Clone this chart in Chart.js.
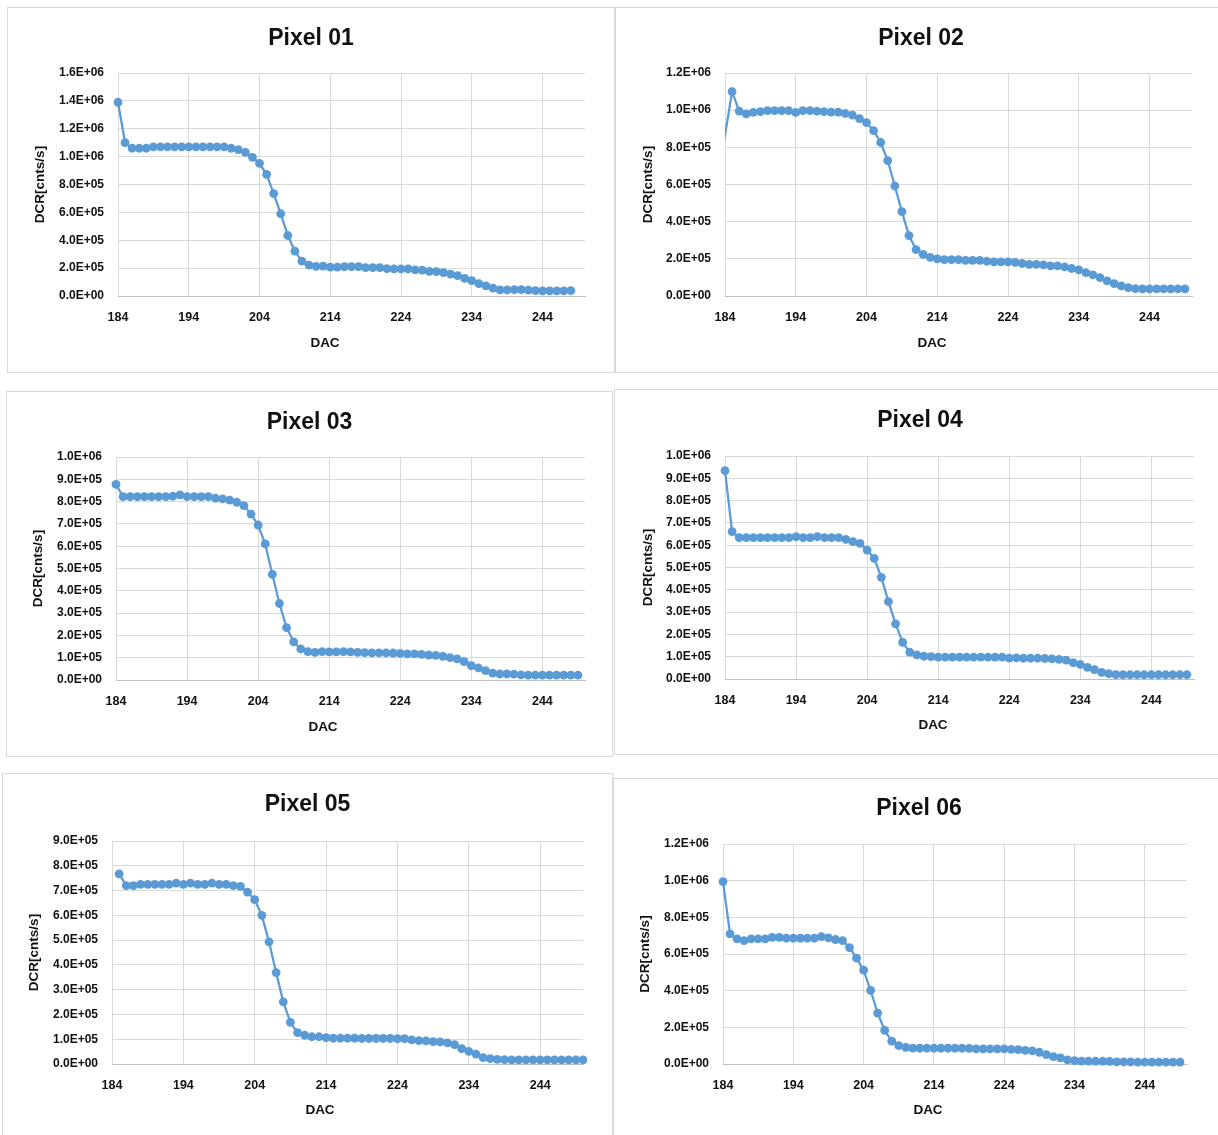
<!DOCTYPE html>
<html>
<head>
<meta charset="utf-8">
<script src="https://cdn.jsdelivr.net/npm/chart.js@4.4.1/dist/chart.umd.min.js"></script>
<style>
body{margin:0;background:#fff;}
#wrap{position:relative;width:1218px;height:1135px;overflow:hidden;background:#fff;}
.panel{position:absolute;border:1px solid #d9d9d9;box-sizing:border-box;}
canvas{position:absolute;}
</style>
</head>
<body>
<div id="wrap"></div>
<script>
// DAC steps 183..250 (183 only feeds the clipped start of Pixel 02)
const dac = [183,184,185,186,187,188,189,190,191,192,
193,194,195,196,197,198,199,200,201,202,
203,204,205,206,207,208,209,210,211,212,
213,214,215,216,217,218,219,220,221,222,
223,224,225,226,227,228,229,230,231,232,
233,234,235,236,237,238,239,240,241,242,
243,244,245,246,247,248,249,250]

const titles = ["Pixel 01","Pixel 02","Pixel 03","Pixel 04","Pixel 05","Pixel 06"]
const xTicks = [184,194,204,214,224,234,244]
const yMax = [1.6e6,1.2e6,1.0e6,1.0e6,9e5,1.2e6]
const yStep = [2e5,2e5,1e5,1e5,1e5,2e5]

const pixel01 = [null,1390000,1100000,1060000,1060000,1060000,1070000,1070000,1070000,1070000,
1070000,1070000,1070000,1070000,1070000,1070000,1070000,1060000,1050000,1030000,
995000,952000,872000,735000,590000,434000,322000,250000,222000,213000,
215000,207000,207000,210000,210000,210000,203000,203000,203000,197000,
195000,195000,195000,187000,185000,176000,175000,167000,157000,146000,
127000,110000,88000,72000,56000,44000,43000,46000,46000,42000,
38000,37000,37000,37000,37000,38000,null,null]

const pixel02 = [630000,null,1100000,995000,980000,988000,992000,997000,997000,997000,
997000,988000,997000,997000,995000,992000,990000,990000,982000,973000,
955000,933000,890000,826000,728000,592000,454000,325000,250000,224000,
208000,200000,196000,196000,196000,192000,192000,192000,187000,184000,
184000,184000,181000,175000,170000,170000,168000,162000,162000,157000,
148000,141000,126000,114000,99000,81000,67000,54000,45000,40000,
38000,38000,38000,38000,38000,38000,38000,null]

const pixel03 = [null,877000,822000,822000,822000,822000,822000,822000,822000,824000,
830000,822000,822000,822000,822000,815000,812000,807000,797000,782000,
744000,695000,610000,474000,343000,235000,171000,139000,127000,124000,
127000,126000,126000,127000,126000,124000,123000,122000,122000,122000,
121000,119000,117000,117000,115000,112000,110000,106000,100000,95000,
82000,64000,54000,42000,31000,27000,27000,26000,23000,22000,
22000,22000,22000,22000,22000,22000,22000,null]

const pixel04 = [null,934000,661000,634000,634000,634000,634000,634000,634000,634000,
634000,638000,634000,634000,638000,634000,634000,634000,626000,616000,
608000,578000,541000,456000,347000,247000,164000,120000,108000,102000,
100000,98000,98000,98000,98000,98000,98000,98000,98000,98000,
98000,94000,95000,93000,93000,93000,92000,90000,88000,85000,
73000,65000,52000,42000,30000,24000,20000,19000,19000,19000,
19000,19000,19000,19000,19000,19000,19000,null]

const pixel05 = [null,null,767000,720000,720000,725000,725000,725000,725000,725000,
730000,725000,730000,725000,725000,730000,725000,725000,720000,717000,
694000,663000,600000,493000,369000,251000,168000,127000,116000,110000,
110000,106000,104000,104000,104000,104000,103000,103000,103000,103000,
103000,102000,102000,97000,94000,93000,90000,89000,85000,78000,
62000,51000,40000,26000,22000,19000,18000,17000,17000,17000,
17000,17000,17000,17000,17000,17000,17000,17000]

const pixel06 = [null,995000,710000,682000,673000,682000,682000,682000,691000,691000,
686000,686000,686000,686000,686000,695000,688000,679000,673000,635000,
577000,512000,401000,278000,183000,125000,100000,91000,87000,86000,
86000,86000,86000,86000,86000,86000,85000,83000,82000,82000,
82000,82000,80000,78000,74000,72000,64000,51000,40000,33000,
22000,18000,16000,16000,15000,15000,14000,12000,11000,11000,
10000,10000,10000,10000,10000,10000,10000,null]

const series = [pixel01,pixel02,pixel03,pixel04,pixel05,pixel06]

// panel frames [left, top, width, height] and plot areas [left, top, right, bottom]
const boxes = [[7,7,608,366],[615,7,612,366],[6,391,607,366],[614,389,612,366],[2,773,611,400],[613,778,612,400]]
const plots = [[118,73,585,296],[725,73,1192,296],[116,457,585,680],[725,456,1194,679],[112,841,583,1064],[723,844,1187,1064]]
const titleY = [39,39,423,421,805,809]
const yTitleX = [40,648,38,648,34,645]
const dacPos = [[325,343],[932,343],[323,727],[933,725],[320,1110],[928,1110]]

const FONT = "'Liberation Sans', Arial, sans-serif"
const BLUE = "#5B9BD5"

function sci(v){
if(v === 0) return "0.0E+00"
const e = Math.floor(Math.log10(v) + 1e-9)
const m = v / Math.pow(10, e)
return m.toFixed(1) + "E+" + String(e).padStart(2, "0")
}

const wrap = document.getElementById("wrap")

series.forEach((vals, i) => {

const [bl, bt, bw, bh] = boxes[i]
const [pl, pt, pr, pb] = plots[i]

const frame = document.createElement("div")
frame.className = "panel"
frame.style.left = bl + "px"
frame.style.top = bt + "px"
frame.style.width = bw + "px"
frame.style.height = bh + "px"
wrap.appendChild(frame)

const canvas = document.createElement("canvas")
canvas.width = bw
canvas.height = bh
canvas.style.left = bl + "px"
canvas.style.top = bt + "px"
wrap.appendChild(canvas)

const points = []
dac.forEach((d, k) => {
if(vals[k] !== null) points.push({x: d, y: vals[k]})
})

const tSize = 23, tLh = tSize * 1.2
const tPadTop = titleY[i] - bt - tLh / 2
const tPadBottom = (pt - bt) - tPadTop - tLh

const aSize = 13.5, aLh = aSize * 1.2
const xBottom = pb + 60

// Excel puts the axis title a little left of the plot centre
const dacTitle = {
id: "dacTitle",
afterDraw(chart){
const ctx = chart.ctx
ctx.save()
ctx.font = "bold " + aSize + "px " + FONT
ctx.fillStyle = "#111"
ctx.textAlign = "center"
ctx.textBaseline = "middle"
ctx.fillText("DAC", dacPos[i][0] - bl, dacPos[i][1] - bt)
ctx.restore()
}
}

new Chart(canvas, {
type: "line",
data: {
datasets: [{
data: points,
borderColor: BLUE,
backgroundColor: BLUE,
borderWidth: 2.25,
pointRadius: 4.4,
pointBorderWidth: 0,
pointHoverRadius: 4.4,
tension: 0,
clip: {left: i === 1 ? 0 : 8, right: 8, top: 8, bottom: 8}
}]
},
options: {
responsive: false,
animation: false,
devicePixelRatio: 1,
layout: {padding: {left: 0, top: 0, right: 0, bottom: bh - (xBottom - bt)}},
plugins: {
legend: {display: false},
tooltip: {enabled: false},
title: {
display: true,
text: titles[i],
color: "#111",
font: {family: FONT, size: tSize, weight: "bold", lineHeight: 1.2},
padding: {top: tPadTop, bottom: tPadBottom}
}
},
scales: {
x: {
type: "linear",
min: 184,
max: 250,
afterBuildTicks: axis => { axis.ticks = xTicks.map(v => ({value: v})) },
afterFit: scale => { scale.height = xBottom - pb },
grid: {color: "#d9d9d9", lineWidth: 1, drawTicks: false},
border: {display: true, color: "#bfbfbf", width: 1},
ticks: {
color: "#111",
padding: 14,
maxRotation: 0,
font: {family: FONT, size: 12.5, weight: "bold"},
callback: v => String(v)
},
title: {display: false}
},
y: {
min: 0,
max: yMax[i],
afterFit: scale => { scale.width = pl - bl },
grid: {color: "#d9d9d9", lineWidth: 1, drawTicks: false},
border: {display: false},
ticks: {
stepSize: yStep[i],
color: "#111",
padding: 14,
font: {family: FONT, size: 12, weight: "bold"},
callback: v => sci(v)
},
title: {
display: true,
text: "DCR[cnts/s]",
color: "#111",
padding: {top: yTitleX[i] - bl - aLh / 2, bottom: 0},
font: {family: FONT, size: aSize, weight: "bold", lineHeight: 1.2}
}
},
// empty right-hand gutter so the chart title centres on the whole panel
gutter: {
type: "linear",
position: "right",
display: true,
afterFit: scale => { scale.width = bw - (pr - bl) },
grid: {display: false},
border: {display: false},
ticks: {display: false},
title: {display: false}
}
}
},
plugins: [dacTitle]
})

})
</script>
</body>
</html>
